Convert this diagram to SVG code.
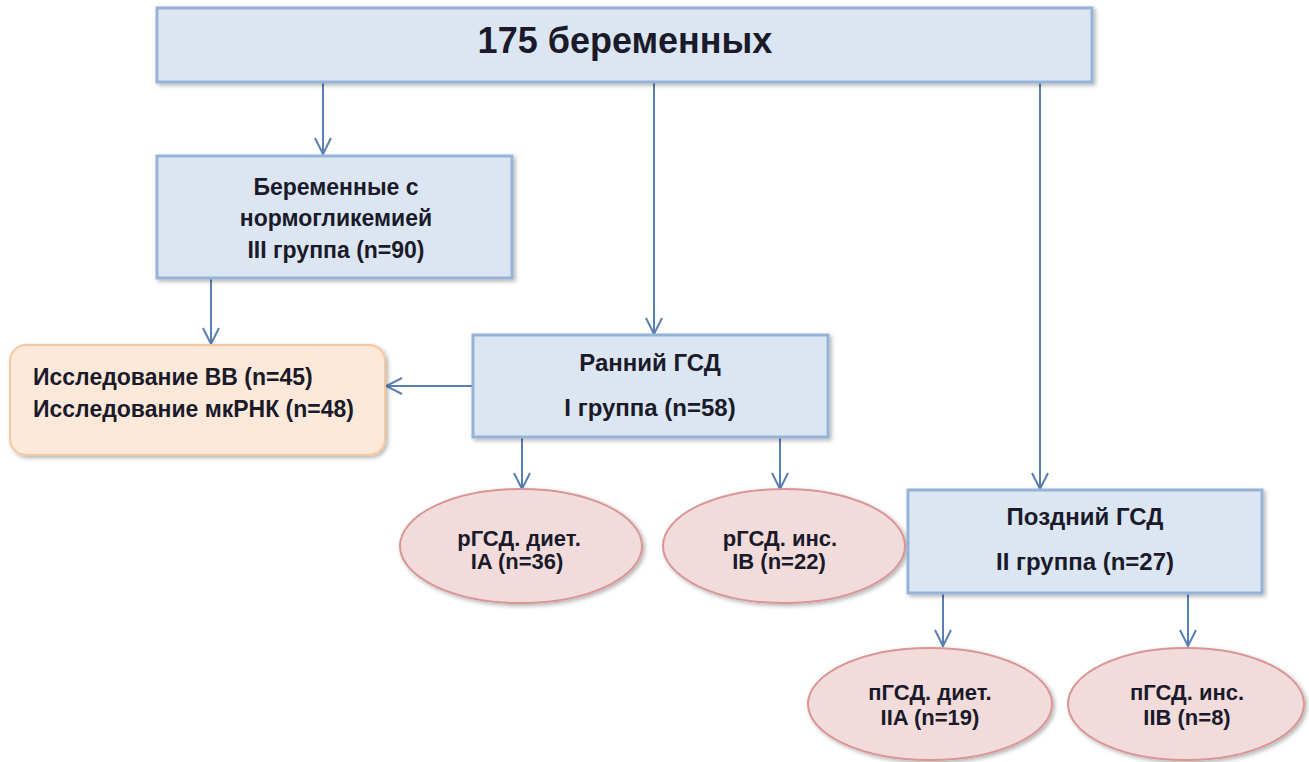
<svg xmlns="http://www.w3.org/2000/svg" width="1309" height="762" viewBox="0 0 1309 762">
<defs>
<style>
.box{fill:#dce6f2;stroke:#95b3d7;stroke-width:3}
.ell{fill:#f2dcdb;stroke:#d99694;stroke-width:2}
.org{fill:#fde9d9;stroke:#f5c8a0;stroke-width:2}
.t{font-family:"Liberation Sans",Arial,sans-serif;font-weight:bold;fill:#1a1a2a;text-anchor:middle}
.l{text-anchor:start}
.c{stroke:#5a7fb3;stroke-width:2;fill:none}
</style>
<marker id="ah" viewBox="0 0 20 20" refX="18" refY="10" markerWidth="20" markerHeight="20" markerUnits="userSpaceOnUse" orient="auto">
<path d="M2,2 L18,10 L2,18" fill="none" stroke="#5a7fb3" stroke-width="2"/>
</marker>
<filter id="sh" x="-5%" y="-5%" width="115%" height="120%"><feDropShadow dx="2" dy="2" stdDeviation="2" flood-color="#000" flood-opacity="0.3"/></filter>
</defs>
<rect width="1309" height="762" fill="#ffffff"/>
<g id="connectors">
<line class="c" x1="323" y1="83" x2="323" y2="154" marker-end="url(#ah)"/>
<line class="c" x1="654" y1="83" x2="654" y2="334" marker-end="url(#ah)"/>
<line class="c" x1="1040" y1="83" x2="1040" y2="489" marker-end="url(#ah)"/>
<line class="c" x1="211" y1="279" x2="211" y2="344" marker-end="url(#ah)"/>
<line class="c" x1="472" y1="386" x2="386" y2="386" marker-end="url(#ah)"/>
<line class="c" x1="522" y1="438" x2="522" y2="489" marker-end="url(#ah)"/>
<line class="c" x1="780" y1="438" x2="780" y2="489" marker-end="url(#ah)"/>
<line class="c" x1="943" y1="594" x2="943" y2="646" marker-end="url(#ah)"/>
<line class="c" x1="1188" y1="594" x2="1188" y2="646" marker-end="url(#ah)"/>
</g>
<g id="n-total">
<rect class="box" x="157" y="8" width="935" height="74" filter="url(#sh)"/>
<text class="t" x="625" y="53" font-size="36">175 беременных</text>
</g>
<g id="n-norm">
<rect class="box" x="157" y="156" width="355" height="122" filter="url(#sh)"/>
<text class="t" x="336" y="195" font-size="23">Беременные с</text>
<text class="t" x="336" y="226" font-size="23">нормогликемией</text>
<text class="t" x="336" y="258" font-size="23">III группа (n=90)</text>
</g>
<g id="n-study">
<rect class="org" x="10" y="345" width="375" height="110" rx="16" filter="url(#sh)"/>
<text class="t l" x="33" y="385" font-size="23">Исследование ВВ (n=45)</text>
<text class="t l" x="33" y="417" font-size="23">Исследование мкРНК (n=48)</text>
</g>
<g id="n-early">
<rect class="box" x="473" y="335" width="355" height="102" filter="url(#sh)"/>
<text class="t" x="650" y="371" font-size="24">Ранний ГСД</text>
<text class="t" x="650" y="416" font-size="24">I группа (n=58)</text>
</g>
<g id="n-ia">
<ellipse class="ell" cx="521" cy="546" rx="121" ry="57" filter="url(#sh)"/>
<text class="t" x="519" y="546" font-size="22">рГСД. диет.</text>
<text class="t" x="517" y="569" font-size="22">IA (n=36)</text>
</g>
<g id="n-ib">
<ellipse class="ell" cx="784" cy="546" rx="121" ry="57" filter="url(#sh)"/>
<text class="t" x="780" y="546" font-size="22">рГСД. инс.</text>
<text class="t" x="779" y="569" font-size="22">IB (n=22)</text>
</g>
<g id="n-late">
<rect class="box" x="908" y="490" width="354" height="103" filter="url(#sh)"/>
<text class="t" x="1085" y="525" font-size="24">Поздний ГСД</text>
<text class="t" x="1085" y="570" font-size="24">II группа (n=27)</text>
</g>
<g id="n-iia">
<ellipse class="ell" cx="930" cy="704" rx="122" ry="56" filter="url(#sh)"/>
<text class="t" x="930" y="700" font-size="22">пГСД. диет.</text>
<text class="t" x="930" y="725" font-size="22">IIA (n=19)</text>
</g>
<g id="n-iib">
<ellipse class="ell" cx="1186" cy="704" rx="118" ry="56" filter="url(#sh)"/>
<text class="t" x="1187" y="700" font-size="22">пГСД. инс.</text>
<text class="t" x="1187" y="725" font-size="22">IIB (n=8)</text>
</g>
</svg>
